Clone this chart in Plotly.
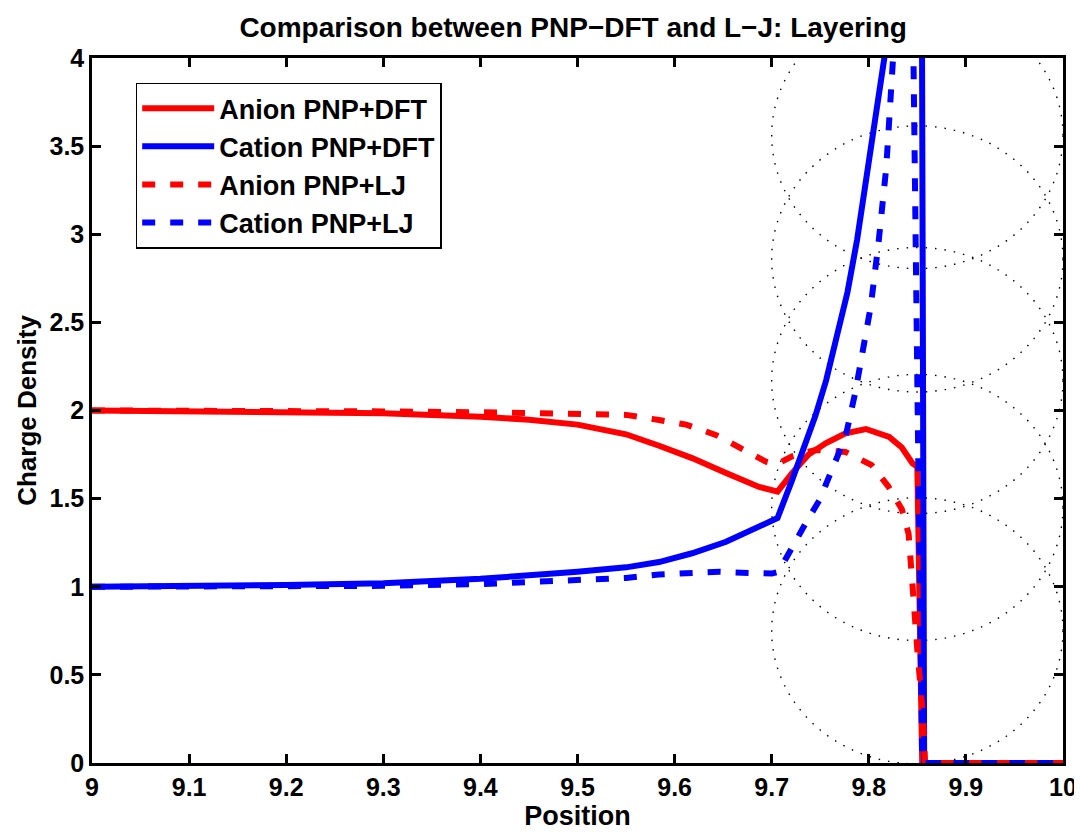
import plotly.graph_objects as go

# position grids and densities
x_anion_dft = [9.0, 9.1, 9.2, 9.3, 9.4, 9.45, 9.5, 9.55, 9.584, 9.618, 9.653, 9.687, 9.706,
               9.721, 9.738, 9.756, 9.776, 9.797, 9.821, 9.834, 9.845, 9.85, 9.852, 9.855, 10.0]
y_anion_dft = [2.0, 1.997, 1.992, 1.985, 1.965, 1.948, 1.92, 1.865, 1.80, 1.73, 1.645, 1.566, 1.54,
               1.645, 1.75, 1.815, 1.87, 1.895, 1.85, 1.79, 1.70, 1.68, 1.0, 0.0, 0.0]

x_cation_dft = [9.0, 9.1, 9.2, 9.3, 9.4, 9.5, 9.55, 9.584, 9.618, 9.653, 9.687, 9.706,
                9.721, 9.735, 9.745, 9.756, 9.766, 9.778, 9.788, 9.797, 9.807, 9.816, 9.83, 9.845,
                9.854, 9.857, 10.0]
y_cation_dft = [1.0, 1.003, 1.01, 1.02, 1.045, 1.085, 1.11, 1.14, 1.19, 1.255, 1.34, 1.39,
                1.605, 1.82, 1.97, 2.17, 2.40, 2.67, 2.97, 3.29, 3.63, 4.0, 4.6, 5.3,
                5.6, 0.0, 0.0]

x_anion_lj = [9.0, 9.1, 9.2, 9.3, 9.4, 9.5, 9.55, 9.584, 9.612, 9.643, 9.67, 9.694, 9.705,
              9.721, 9.745, 9.776, 9.803, 9.82, 9.834, 9.841, 9.844, 9.847, 9.85, 9.853, 9.856, 9.858, 10.0]
y_anion_lj = [2.0, 2.0, 1.998, 1.995, 1.99, 1.985, 1.975, 1.946, 1.92, 1.86, 1.78, 1.71, 1.695,
              1.74, 1.776, 1.765, 1.69, 1.57, 1.44, 1.30, 1.08, 0.81, 0.64, 0.45, 0.25, 0.0, 0.0]

x_cation_lj = [9.0, 9.2, 9.3, 9.4, 9.5, 9.55, 9.584, 9.646, 9.677, 9.70, 9.707,
               9.721, 9.735, 9.749, 9.762, 9.776, 9.786, 9.797, 9.802, 9.81, 9.818, 9.825, 9.835,
               9.843, 9.846, 9.851, 9.855, 10.0]
y_cation_lj = [1.0, 1.0, 1.005, 1.015, 1.035, 1.05, 1.07, 1.085, 1.078, 1.075, 1.085,
               1.23, 1.36, 1.49, 1.66, 1.85, 2.10, 2.44, 2.59, 2.95, 3.38, 4.0, 4.8,
               4.6, 4.0, 1.7, 0.0, 0.0]

# dotted ion outlines (centre x, centre y list, radii in data units)
circle_cx = 9.85
circle_cy = [0.75, 1.45, 2.17, 2.86, 3.56]
circle_rx = 0.15
circle_ry = 0.755

x_ticks = [9, 9.1, 9.2, 9.3, 9.4, 9.5, 9.6, 9.7, 9.8, 9.9, 10]
x_tick_text = ["9", "9.1", "9.2", "9.3", "9.4", "9.5", "9.6", "9.7", "9.8", "9.9", "10"]
y_ticks = [0, 0.5, 1, 1.5, 2, 2.5, 3, 3.5, 4]
y_tick_text = ["0", "0.5", "1", "1.5", "2", "2.5", "3", "3.5", "4"]

RED = "#ff0000"
BLUE = "#0000ff"
DASH = "13px,15px"
LW = 6

fig = go.Figure()
series = [
    ("Anion PNP+DFT", x_anion_dft, y_anion_dft, RED, "solid"),
    ("Cation PNP+DFT", x_cation_dft, y_cation_dft, BLUE, "solid"),
    ("Anion PNP+LJ", x_anion_lj, y_anion_lj, RED, DASH),
    ("Cation PNP+LJ", x_cation_lj, y_cation_lj, BLUE, DASH),
]
for name, xs, ys, col, dash in series:
    fig.add_trace(go.Scatter(x=xs, y=ys, mode="lines", name=name, legendgroup=name,
                             line=dict(color=col, width=LW, dash=dash)))

for cy in circle_cy:
    fig.add_shape(type="circle", xref="x", yref="y",
                  x0=circle_cx - circle_rx, x1=circle_cx + circle_rx,
                  y0=cy - circle_ry, y1=cy + circle_ry,
                  line=dict(color="black", width=1.4, dash="1.5px,8px"), layer="below")

axis_common = dict(showline=True, linecolor="black", linewidth=2.5, mirror="ticks",
                   ticks="inside", ticklen=9, tickwidth=2.5, tickcolor="black",
                   showgrid=False, zeroline=False, automargin=False,
                   ticklabeloverflow="allow",
                   tickfont=dict(size=25, color="black"))

# the page body adds an 8px offset; margins are trimmed so the plot box lands where the reference has it
fig.update_layout(
    width=1082, height=833,
    paper_bgcolor="white", plot_bgcolor="white",
    margin=dict(l=84, r=27, t=50, b=78),
    font=dict(family="Liberation Sans, Arial, sans-serif", weight="bold", color="black"),
    title=dict(text="Comparison between PNP−DFT and L−J: Layering",
               x=0.4955, xref="paper", y=1 - 19 / 833, yref="container", yanchor="middle",
               font=dict(size=28, color="black")),
    xaxis=dict(range=[9, 10], tickvals=x_ticks, ticktext=x_tick_text,
               title=dict(text="Position", font=dict(size=27), standoff=4), **axis_common),
    yaxis=dict(range=[0, 4], tickvals=y_ticks, ticktext=y_tick_text,
               title=dict(text="Charge Density", font=dict(size=26), standoff=6), **axis_common),
    legend=dict(x=0.045, y=0.965, xanchor="left", yanchor="top",
                bgcolor="white", bordercolor="black", borderwidth=1.5,
                font=dict(size=27, color="black"), tracegroupgap=0,
                itemwidth=72),
    showlegend=True,
)

fig.write_html("out.html")
